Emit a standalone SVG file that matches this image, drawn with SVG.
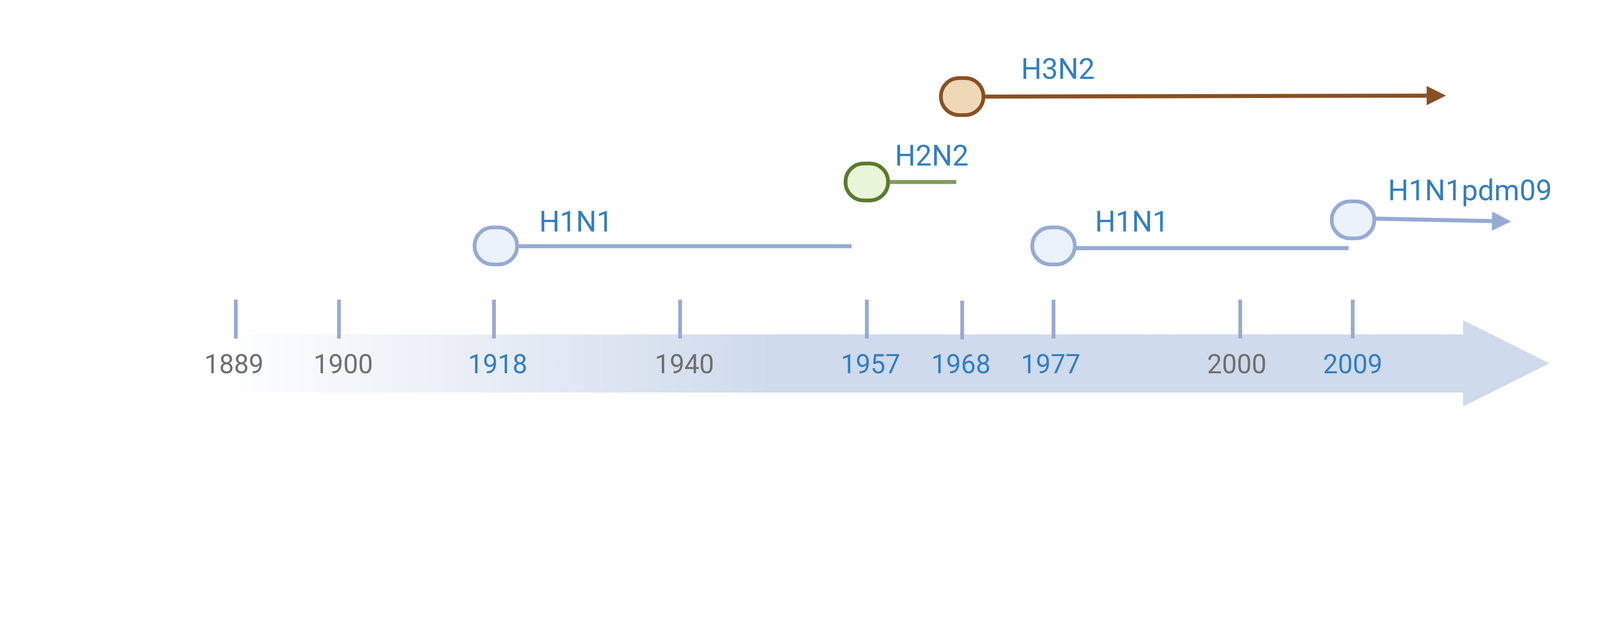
<svg xmlns="http://www.w3.org/2000/svg" width="5150" height="1611" viewBox="0 0 5150 1611" preserveAspectRatio="xMinYMin meet">
<style>
:root{width:100vw;height:100vh}
.yr{font-family:Roboto,"Liberation Sans",sans-serif;font-size:85px;text-anchor:middle}
.g{fill:#707070}
.b{fill:#337EC2}
.lbl{font-family:Roboto,"Liberation Sans",sans-serif;font-size:93px;fill:#337EC2}
.tick{stroke:#96AAD3;stroke-width:12}
.nb{fill:#EBF2FB;stroke:#96AAD3;stroke-width:12}
.nbr{fill:#EED8B8;stroke:#8A5023;stroke-width:12}
.ng{fill:#E9F5D9;stroke:#5C7A2B;stroke-width:12}
.cb{stroke:#96AAD3;stroke-width:13;fill:none}
.cbr{stroke:#8A5023;stroke-width:13;fill:none}
.cg{stroke:#849C5C;stroke-width:13;fill:none}
</style>
<defs>
<linearGradient id="band" gradientUnits="userSpaceOnUse" x1="699" y1="0" x2="2490" y2="0">
<stop offset="0" stop-color="#FFFFFF"/>
<stop offset="1" stop-color="#CFDAEC"/>
</linearGradient>
<marker id="ahb" markerUnits="userSpaceOnUse" markerWidth="62" markerHeight="62" refX="0" refY="31" orient="auto" viewBox="0 0 62 62">
<path d="M0,0 L62,31 L0,62 z" fill="#96AAD3"/>
</marker>
<marker id="ahbr" markerUnits="userSpaceOnUse" markerWidth="62" markerHeight="62" refX="0" refY="31" orient="auto" viewBox="0 0 62 62">
<path d="M0,0 L62,31 L0,62 z" fill="#8A5023"/>
</marker>
</defs>
<rect width="5150" height="1611" fill="#FFFFFF"/>
<g id="timeline">
<polygon points="699,1077 4709,1077 4709,1031 4987,1170 4709,1309 4709,1264 699,1264" fill="url(#band)"/>
<line class="tick" x1="759" y1="965" x2="759" y2="1090"/>
<line class="tick" x1="1091" y1="965" x2="1091" y2="1090"/>
<line class="tick" x1="1590" y1="965" x2="1590" y2="1090"/>
<line class="tick" x1="2189" y1="965" x2="2189" y2="1090"/>
<line class="tick" x1="2790" y1="965" x2="2790" y2="1090"/>
<line class="tick" x1="3097" y1="968" x2="3097" y2="1093"/>
<line class="tick" x1="3391" y1="965" x2="3391" y2="1090"/>
<line class="tick" x1="3992" y1="965" x2="3992" y2="1090"/>
<line class="tick" x1="4354" y1="965" x2="4354" y2="1090"/>
<text class="yr g" x="753" y="1202">1889</text>
<text class="yr g" x="1105" y="1202">1900</text>
<text class="yr b" x="1602" y="1202">1918</text>
<text class="yr g" x="2203" y="1202">1940</text>
<text class="yr b" x="2802" y="1202">1957</text>
<text class="yr b" x="3093" y="1202">1968</text>
<text class="yr b" x="3382" y="1202">1977</text>
<text class="yr g" x="3981" y="1202">2000</text>
<text class="yr b" x="4354" y="1202">2009</text>
</g>
<g id="connectors">
<line class="cb" x1="1664" y1="793" x2="2741" y2="793"/>
<line class="cg" x1="2859" y1="586" x2="3078" y2="586"/>
<line class="cbr" x1="3166" y1="311" x2="4592" y2="308" marker-end="url(#ahbr)"/>
<line class="cb" x1="3460" y1="799" x2="4341" y2="799"/>
<line class="cb" x1="4424" y1="704" x2="4802" y2="712" marker-end="url(#ahb)"/>
</g>
<g id="node-1918">
<rect class="nb" x="1527.5" y="732.5" width="137" height="119" rx="59" ry="59"/>
<text class="lbl" x="1735.5" y="745">H1N1</text>
</g>
<g id="node-1957">
<rect class="ng" x="2721.5" y="526.5" width="137" height="119" rx="59" ry="59"/>
<text class="lbl" x="2880.5" y="533">H2N2</text>
</g>
<g id="node-1968">
<rect class="nbr" x="3028.5" y="251.5" width="137" height="119" rx="59" ry="59"/>
<text class="lbl" x="3286.5" y="254">H3N2</text>
</g>
<g id="node-1977">
<rect class="nb" x="3322.5" y="732.5" width="137" height="119" rx="59" ry="59"/>
<text class="lbl" x="3524.5" y="745">H1N1</text>
</g>
<g id="node-2009">
<rect class="nb" x="4286.5" y="648.5" width="137" height="119" rx="59" ry="59"/>
<text class="lbl" x="4467.5" y="645">H1N1pdm09</text>
</g>
</svg>
